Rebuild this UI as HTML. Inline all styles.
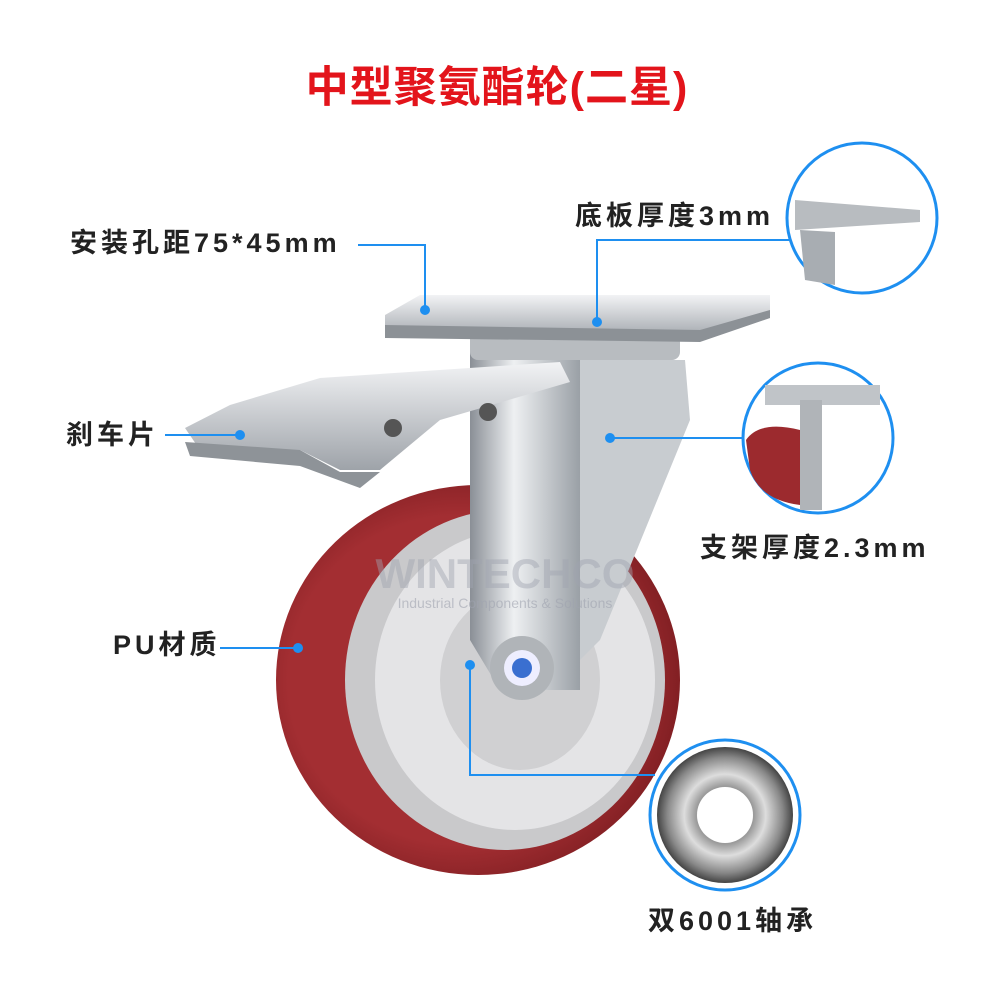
<!DOCTYPE html>
<html><head><meta charset="utf-8"><style>
html,body{margin:0;padding:0;background:#fff;}
body{width:1000px;height:1000px;overflow:hidden;}
text{font-family:"Liberation Sans","Noto Sans CJK SC",sans-serif;}
</style></head><body>
<svg width="1000" height="1000" viewBox="0 0 1000 1000" xmlns="http://www.w3.org/2000/svg">
<defs>
<radialGradient id="wr" cx="0.45" cy="0.5" r="0.6"><stop offset="0.7" stop-color="#a32e32"/><stop offset="1" stop-color="#761a1e"/></radialGradient>
<linearGradient id="met" x1="0" x2="1"><stop offset="0" stop-color="#8a8f96"/><stop offset="0.4" stop-color="#eef0f2"/><stop offset="1" stop-color="#9aa0a6"/></linearGradient>
<linearGradient id="met2" x1="0" y1="0" x2="0" y2="1"><stop offset="0" stop-color="#f2f3f5"/><stop offset="1" stop-color="#9ea3a9"/></linearGradient>
<radialGradient id="br" cx="0.5" cy="0.5" r="0.5"><stop offset="0.3" stop-color="#fff"/><stop offset="0.42" stop-color="#999"/><stop offset="0.6" stop-color="#ddd"/><stop offset="0.85" stop-color="#888"/><stop offset="1" stop-color="#444"/></radialGradient>
</defs>
<text x="497" y="102" text-anchor="middle" font-size="43" font-weight="bold" letter-spacing="1" fill="#e3141b">中型聚氨酯轮(二星)</text>

<!-- wheel -->
<ellipse cx="478" cy="680" rx="202" ry="195" fill="url(#wr)"/>
<ellipse cx="505" cy="680" rx="160" ry="170" fill="#c9c9cb"/>
<ellipse cx="515" cy="680" rx="140" ry="150" fill="#e4e4e6"/>
<ellipse cx="520" cy="680" rx="80" ry="90" fill="#d0d0d2"/>
<!-- bracket -->
<polygon points="560,360 685,360 690,420 600,640 580,660" fill="#c8ccd0"/>
<polygon points="470,350 580,350 580,690 500,690 470,640" fill="url(#met)"/>
<rect x="470" y="330" width="210" height="30" rx="8" fill="#b8bcc0"/>
<!-- plate -->
<polygon points="385,315 420,295 770,295 770,318 700,340 385,335" fill="url(#met2)"/>
<polygon points="385,325 700,330 770,310 770,318 700,342 385,338" fill="#8c9196"/>
<!-- brake -->
<polygon points="185,428 230,405 320,378 560,362 570,382 440,420 380,470 340,470 300,450 200,450" fill="url(#met2)"/>
<polygon points="185,442 300,450 340,472 380,472 360,488 300,466 190,456" fill="#8e9398"/>
<circle cx="393" cy="428" r="9" fill="#555"/><circle cx="488" cy="412" r="9" fill="#555"/>
<!-- axle nut -->
<circle cx="522" cy="668" r="32" fill="#b0b4b8"/>
<circle cx="522" cy="668" r="18" fill="#eef"/>
<circle cx="522" cy="668" r="10" fill="#3a6fd0"/>
<!-- watermark -->
<text x="505" y="588" text-anchor="middle" font-size="42" font-weight="bold" fill="#a0a4b0" opacity="0.45">WINTECHCO</text>
<text x="505" y="608" text-anchor="middle" font-size="14" fill="#a0a4b0" opacity="0.6">Industrial Components &amp; Solutions</text>

<!-- callout lines -->
<g stroke="#1e8ff0" stroke-width="2" fill="none">
<polyline points="358,245 425,245 425,310"/>
<polyline points="790,240 597,240 597,322"/>
<line x1="165" y1="435" x2="240" y2="435"/>
<line x1="610" y1="438" x2="745" y2="438"/>
<line x1="220" y1="648" x2="298" y2="648"/>
<polyline points="470,665 470,775 655,775"/>
</g>
<g fill="#1e8ff0">
<circle cx="425" cy="310" r="5"/><circle cx="597" cy="322" r="5"/><circle cx="240" cy="435" r="5"/>
<circle cx="610" cy="438" r="5"/><circle cx="298" cy="648" r="5"/><circle cx="470" cy="665" r="5"/>
</g>

<!-- detail circles -->
<circle cx="862" cy="218" r="75" fill="#fff" stroke="#1e8ff0" stroke-width="3"/>
<polygon points="795,200 920,210 920,222 795,230" fill="#b8bcc0"/>
<polygon points="800,230 835,232 835,285 805,280" fill="#a8adb2"/>
<circle cx="818" cy="438" r="75" fill="#fff" stroke="#1e8ff0" stroke-width="3"/>
<rect x="765" y="385" width="115" height="20" fill="#c0c4c8"/>
<rect x="800" y="400" width="22" height="110" fill="#b0b4b8"/>
<path d="M746,440 Q760,420 800,430 L800,505 Q760,500 750,470Z" fill="#9c2a2e"/>
<circle cx="725" cy="815" r="75" fill="#fff" stroke="#1e8ff0" stroke-width="3"/>
<circle cx="725" cy="815" r="68" fill="url(#br)"/>
<circle cx="725" cy="815" r="28" fill="#fff"/>

<!-- labels -->
<g font-size="27" font-weight="bold" fill="#222" letter-spacing="4">
<text x="70" y="252">安装孔距75*45mm</text>
<text x="575" y="225">底板厚度3mm</text>
<text x="66" y="444">刹车片</text>
<text x="700" y="557">支架厚度2.3mm</text>
<text x="113" y="654">PU材质</text>
<text x="648" y="930">双6001轴承</text>
</g>
</svg>
</body></html>
